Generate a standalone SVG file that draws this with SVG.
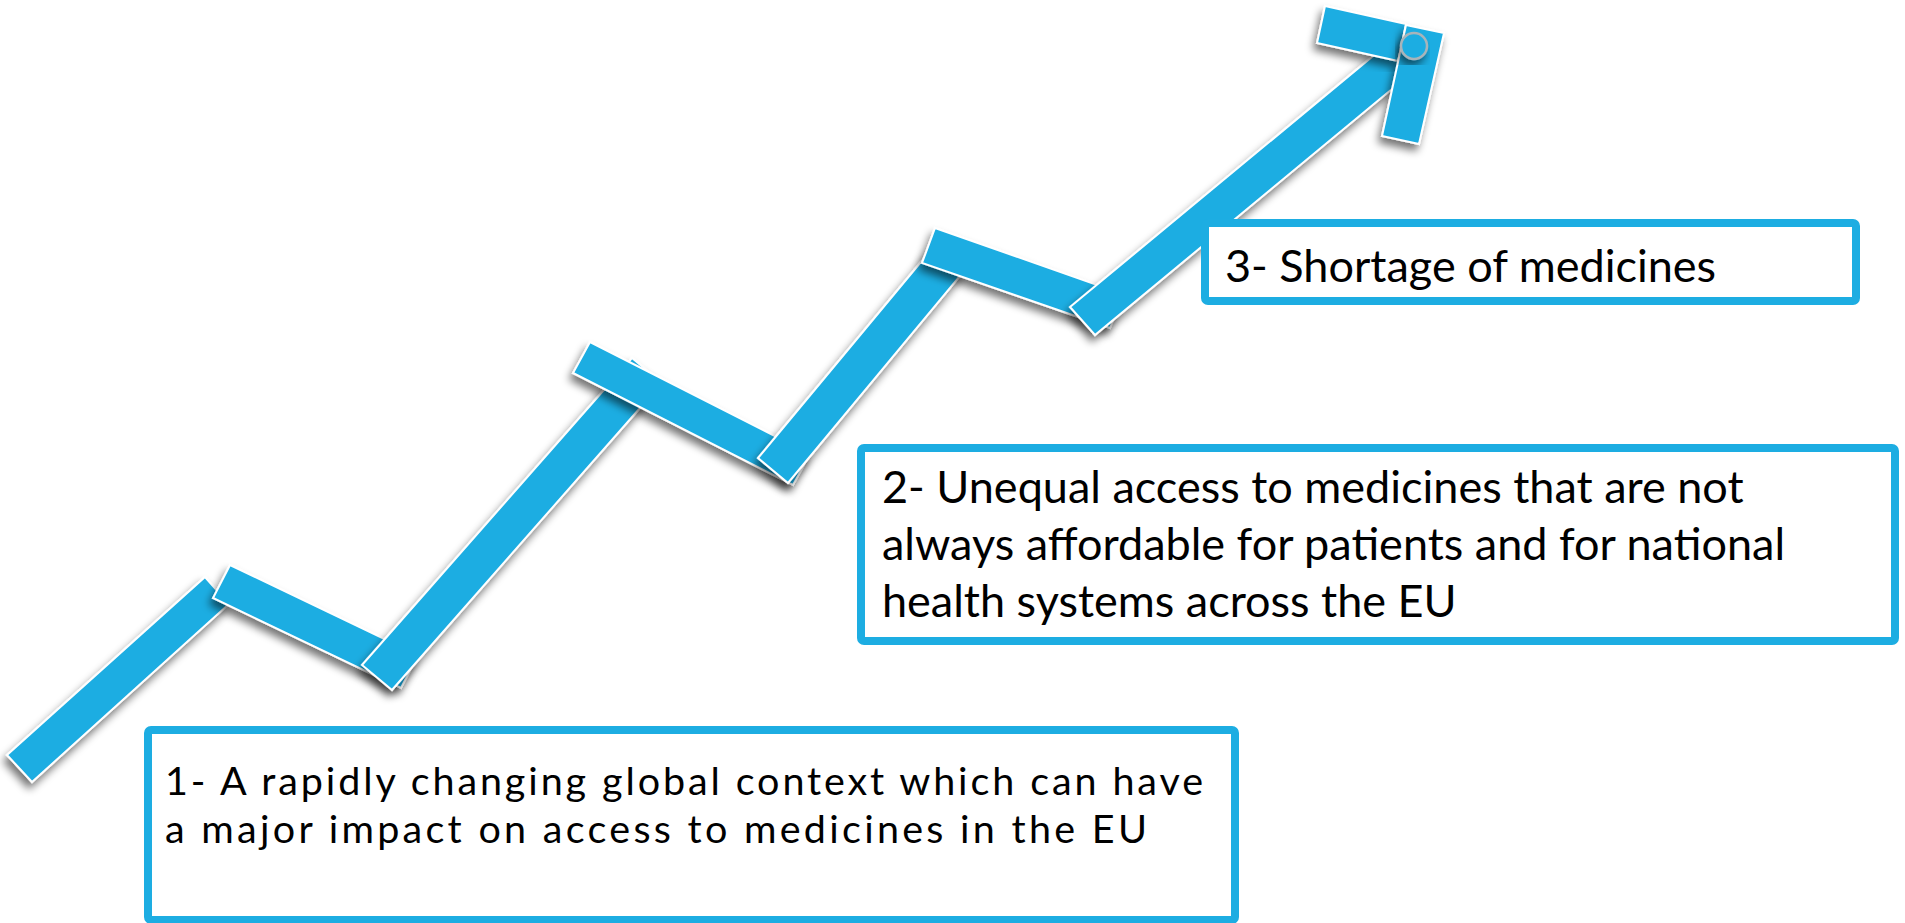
<svg xmlns="http://www.w3.org/2000/svg" width="1905" height="923" viewBox="0 0 1905 923">
<defs>
<filter id="sh" x="-20%" y="-20%" width="140%" height="140%">
<feGaussianBlur in="SourceAlpha" stdDeviation="4"/>
<feOffset dx="-3" dy="6" result="b"/>
<feComponentTransfer><feFuncA type="linear" slope="0.55"/></feComponentTransfer>
<feMerge><feMergeNode/><feMergeNode in="SourceGraphic"/></feMerge>
</filter>
</defs>
<style>
.bar{fill:#1DADE2;stroke:#ffffff;stroke-width:2;stroke-linejoin:miter;filter:url(#sh)}
.box{fill:#ffffff;stroke:#1DADE2;stroke-width:8}
.t{font-family:Lato,"Open Sans","Liberation Sans",sans-serif;fill:#000000}
</style>
<rect width="1905" height="923" fill="#ffffff"/>
<g id="connectors">
<polygon class="bar" points="7,755 205,577 229,604 32,782"/>
<polygon class="bar" points="230,565 418,655 401,688 213,598"/>
<polygon class="bar" points="362,665 632,358 662,383 392,690"/>
<polygon class="bar" points="590,342 810,454 793,485 573,373"/>
<polygon class="bar" points="758,458 935,245 965,270 788,483"/>
<polygon class="bar" points="935,228 1123,294 1110,328 922,263"/>
<polygon class="bar" points="1070,307 1390,42 1415,70 1095,335"/>
<polygon class="bar" points="1325,6 1406,24 1398,61 1317,43"/>
<polygon class="bar" points="1406,25 1444,33 1419,144 1382,136"/>
<circle cx="1414" cy="46" r="13" fill="#1DADE2" stroke="#A8B4BA" stroke-width="2.5" filter="url(#sh)"/>
</g>
<g id="node1">
<rect class="box" x="148" y="730" width="1087" height="190" rx="3"/>
<text class="t" font-size="39.5" x="165" y="795" textLength="1038" lengthAdjust="spacing">1- A rapidly changing global context which can have</text>
<text class="t" font-size="39.5" x="165" y="843" textLength="982" lengthAdjust="spacing">a major impact on access to medicines in the EU</text>
</g>
<g id="node2">
<rect class="box" x="861" y="448" width="1034" height="193" rx="3"/>
<text class="t" font-size="45" x="882" y="503">2- Unequal access to medicines that are not</text>
<text class="t" font-size="45" x="882" y="560">always affordable for patients and for national</text>
<text class="t" font-size="45" x="882" y="617">health systems across the EU</text>
</g>
<g id="node3">
<rect class="box" x="1205" y="223" width="651" height="78" rx="3"/>
<text class="t" font-size="45" x="1225" y="282">3- Shortage of medicines</text>
</g>
</svg>
